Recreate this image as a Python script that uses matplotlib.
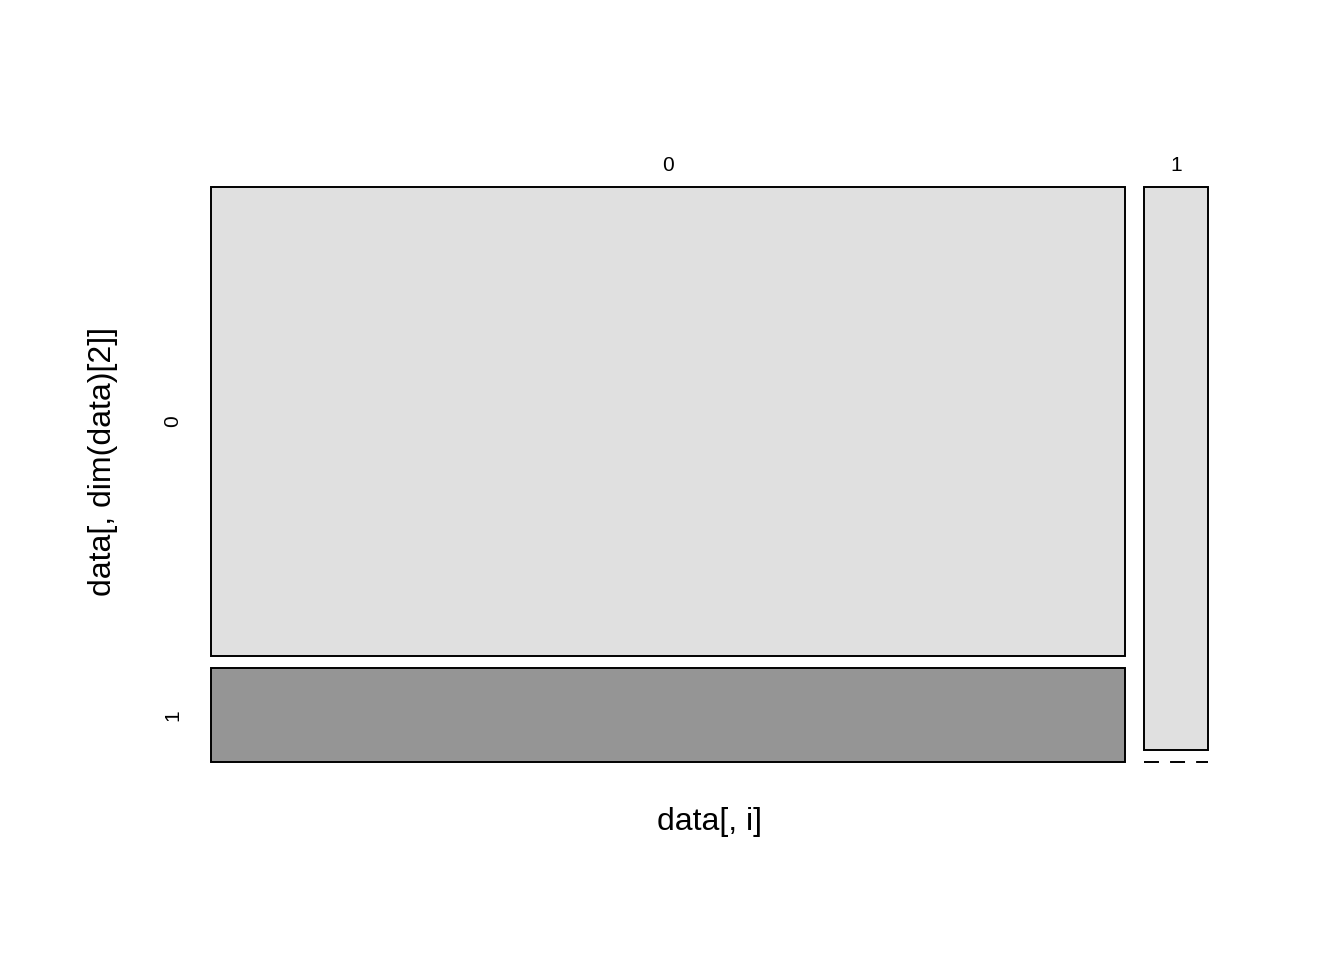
import matplotlib
matplotlib.use("Agg")
import matplotlib.pyplot as plt
from matplotlib.patches import Rectangle


# counts: columns = data[, i] levels, rows = data[, dim(data)[2]] levels
col_levels = ["0", "1"]
row_levels = ["0", "1"]
counts = [[250, 50],   # data[, i] == 0
          [21, 0]]     # data[, i] == 1
row_colors = ["#E0E0E0", "#959595"]

W, H = 1344, 960
plt.rcParams['font.family'] = ['Liberation Sans', 'DejaVu Sans']

fig = plt.figure(figsize=(W / 100, H / 100), dpi=100)
# plot region in pixels: x 211..1208, y 187..762
ax = fig.add_axes([211 / W, 1 - 762 / H, 997 / W, 575 / H])
ax.set_xlim(0, 1)
ax.set_ylim(0, 1)
ax.axis("off")

gap_x = 19 / 997
gap_y = 12 / 575
total = sum(sum(c) for c in counts)
avail_x = 1 - gap_x * (len(counts) - 1)
lw = 1.4

x = 0.0
for j, col in enumerate(counts):
    w = avail_x * sum(col) / total
    avail_y = 1 - gap_y * (len(col) - 1)
    top = 1.0
    for k, n in enumerate(col):
        h = avail_y * n / sum(col)
        if n > 0:
            ax.add_patch(Rectangle((x, top - h), w, h, facecolor=row_colors[k],
                                   edgecolor="black", linewidth=lw, clip_on=False))
        else:
            ax.plot([x, x + w], [top, top], color="black", linewidth=lw,
                    linestyle=(0, (7.7, 5.7)), dash_capstyle="butt",
                    clip_on=False)
        if j == 0:
            ax.text(-38 / 997, top - h / 2, row_levels[k], rotation=90,
                    ha="center", va="center", fontsize=15)
        top -= h + gap_y
    ax.text(x + w / 2, 1 + 21 / 575, col_levels[j], ha="center", va="center",
            fontsize=15)
    x += w + gap_x

fig.text(709.5 / W, 1 - 822 / H, "data[, i]", ha="center", va="center", fontsize=23)
fig.text(103 / W, 1 - 462 / H, "data[, dim(data)[2]]", rotation=90,
         ha="center", va="center", fontsize=23)

plt.savefig("out.png", dpi=100)
